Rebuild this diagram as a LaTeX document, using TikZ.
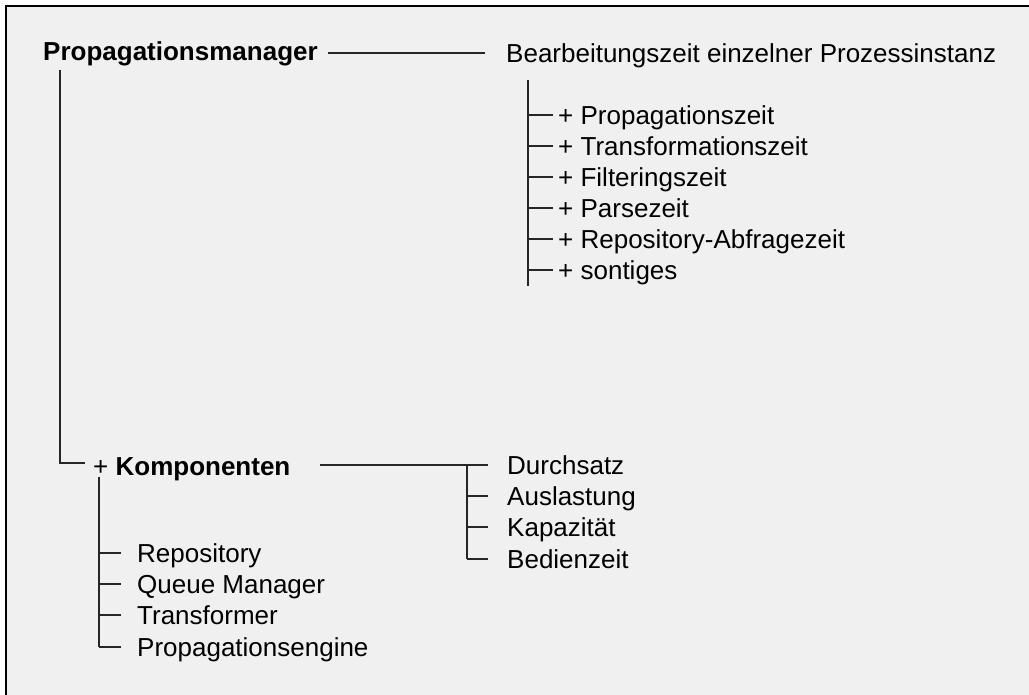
\documentclass[tikz,border=0pt]{standalone}
\usepackage{fontspec}
\setmainfont{Liberation Sans}
\usepackage{xcolor}
\usepackage{tikz}
\usetikzlibrary{positioning,calc}
\definecolor{panelgray}{HTML}{F0F0F0}

\begin{document}
\begin{tikzpicture}[x=1pt, y=-1pt, font=\fontsize{26pt}{31pt}\selectfont,
  item/.style={anchor=west, inner sep=0pt, text height=18.6pt, text depth=0pt},
  branch/.style={line width=1.2pt, black!85}]
  \useasboundingbox (0,0) rectangle (1029,695);

  % Frame
  \fill[panelgray] (6,6) rectangle (1029,695);
  \draw[line width=2pt] (6,695) -- (6,6) -- (1029,6);

  % Root and processing time of one instance
  \node[item] (pm) at (43,51) {\textbf{Propagationsmanager}};
  \node[item] (bz) at (506,53) {Bearbeitungszeit einzelner Prozessinstanz};
  \draw[branch] ($(pm.east |- bz.west)+(10,0)$) -- ($(bz.west)+(-21,0)$);

  % Time components
  \coordinate (bztop) at (528,80);
  \coordinate (bzbot) at (528,286);
  \draw[branch] (bztop) -- (bzbot);
  \foreach \n/\y/\lab in {pz/115/Propagationszeit, tz/146/Transformationszeit,
      fz/177/Filteringszeit, psz/208/Parsezeit, rz/239/Repository-Abfragezeit,
      so/270/sontiges} {
    \node[item] (\n) at (558,\y) {+ \lab};
    \draw[branch] (bztop |- \n.west) -- ($(\n.west)+(-5,0)$);
  }

  % Komponenten
  \node[item] (komp) at (93,466) {+ \textbf{Komponenten}};
  \coordinate (pmtop) at (60,70);
  \draw[branch] (pmtop) |- ($(komp.west)+(-8,-3)$);

  % Metrics per component
  \foreach \n/\y/\lab in {ds/465/Durchsatz, al/496/Auslastung, kp/527/Kapazität, bd/559/Bedienzeit}
    \node[item] (\n) at (507,\y) {\lab};
  \draw[branch] ($(komp.east |- ds.west)+(29,0)$) -- ($(ds.west)+(-19,0)$);
  \draw[branch] ($(ds.west)+(-40,0)$) -- ($(bd.west)+(-40,0)$);
  \foreach \n in {al,kp,bd}
    \draw[branch] ($(\n.west)+(-40,0)$) -- ($(\n.west)+(-19,0)$);

  % Component list
  \foreach \n/\y/\lab in {rep/553/Repository, qm/584/Queue Manager, tf/615/Transformer,
      pe/647/Propagationsengine}
    \node[item] (\n) at (137,\y) {\lab};
  \coordinate (kotop) at (99,477);
  \draw[branch] (kotop) -- (kotop |- pe.west);
  \foreach \n in {rep,qm,tf,pe}
    \draw[branch] (kotop |- \n.west) -- ($(\n.west)+(-16,0)$);

\end{tikzpicture}
\end{document}
